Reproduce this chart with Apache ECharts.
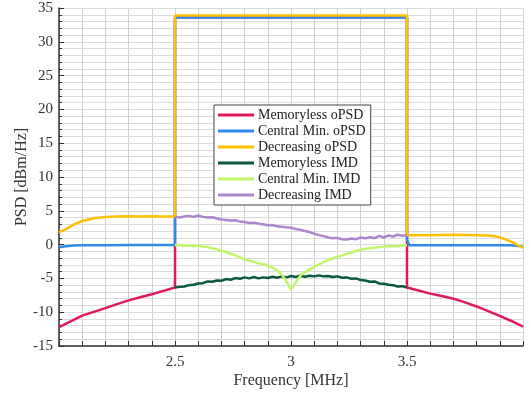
<!DOCTYPE html>
<html><head><meta charset="utf-8">
<script src="https://cdn.jsdelivr.net/npm/echarts@6/dist/echarts.min.js"></script>
<style>html,body{margin:0;padding:0;background:#fff}#c{width:531px;height:394px}</style>
</head><body><div id="c"></div>
<script>
// ---- data ----
var seriesNames = ['Memoryless oPSD','Central Min. oPSD','Decreasing oPSD','Memoryless IMD','Central Min. IMD','Decreasing IMD'];
var xTickLabels = ['2.5','3','3.5'];

var memOpsdFreq = [2.0,2.05,2.1,2.15,2.2,2.25,2.3,2.35,2.4,2.45,2.5,2.5,3.5,3.5,3.55,3.6,3.65,3.7,3.75,3.8,3.85,3.9,3.95,4.0];
var memOpsdVal  = [-12.2,-11.35,-10.5,-9.95,-9.4,-8.8,-8.25,-7.8,-7.35,-6.85,-6.35,33.65,33.65,-6.35,-6.8,-7.25,-7.6,-8.0,-8.55,-9.15,-9.85,-10.55,-11.3,-12.15];

var cenOpsdFreq = [2.0,2.03,2.06,2.1,2.2,2.3,2.4,2.5,2.5,3.5,3.5,3.51,3.6,3.7,3.8,3.9,3.95,4.0];
var cenOpsdVal  = [-0.4,-0.25,-0.15,-0.1,-0.1,-0.05,-0.05,-0.05,33.6,33.6,0.7,-0.1,-0.1,-0.1,-0.1,-0.1,-0.1,-0.3];

var decOpsdFreq = [2.0,2.03,2.06,2.1,2.15,2.2,2.25,2.3,2.35,2.4,2.45,2.5,2.5,3.5,3.5,3.6,3.7,3.8,3.85,3.88,3.92,3.96,4.0];
var decOpsdVal  = [1.8,2.3,2.9,3.5,3.9,4.1,4.15,4.2,4.15,4.2,4.15,4.15,33.9,33.9,1.4,1.4,1.45,1.4,1.35,1.25,0.85,0.25,-0.5];

var imdFreq = [2.50,2.52,2.54,2.56,2.58,2.60,2.62,2.64,2.66,2.68,2.70,2.72,2.74,2.76,2.78,2.80,2.82,2.84,2.86,2.88,2.90,2.92,2.94,2.96,2.98,3.00,3.02,3.04,3.06,3.08,3.10,3.12,3.14,3.16,3.18,3.20,3.22,3.24,3.26,3.28,3.30,3.32,3.34,3.36,3.38,3.40,3.42,3.44,3.46,3.48,3.50];
var memImdVal = [-6.35,-6.25,-6.2,-6.0,-5.95,-5.75,-5.7,-5.45,-5.5,-5.3,-5.35,-5.1,-5.2,-4.95,-5.05,-4.85,-5.0,-4.8,-5.0,-4.85,-4.95,-4.75,-4.9,-4.7,-4.85,-4.65,-4.8,-4.6,-4.75,-4.6,-4.7,-4.55,-4.7,-4.65,-4.8,-4.7,-4.9,-4.85,-5.05,-5.0,-5.25,-5.3,-5.5,-5.45,-5.75,-5.8,-5.95,-6.0,-6.2,-6.15,-6.35];
var cenImdVal = [-0.1,-0.05,-0.2,-0.1,-0.25,-0.15,-0.3,-0.35,-0.55,-0.7,-0.9,-1.1,-1.35,-1.6,-1.9,-2.2,-2.4,-2.55,-2.75,-2.9,-3.1,-3.4,-3.8,-4.4,-5.4,-6.7,-5.6,-4.6,-4.1,-3.7,-3.3,-2.95,-2.6,-2.3,-2.05,-1.8,-1.6,-1.4,-1.2,-0.95,-0.75,-0.65,-0.5,-0.45,-0.35,-0.3,-0.25,-0.2,-0.25,-0.1,-0.1];
var decImdVal = [4.1,4.0,4.15,4.25,4.1,4.3,4.1,4.0,4.05,3.85,3.7,3.65,3.55,3.6,3.4,3.35,3.2,3.25,3.1,3.0,2.85,2.9,2.7,2.65,2.55,2.5,2.3,2.2,2.0,1.85,1.6,1.4,1.25,1.05,0.95,1.0,0.8,0.75,0.9,0.8,1.05,0.95,1.1,0.95,1.3,1.05,1.35,1.2,1.45,1.3,1.4];

var colors = ['#DE1A5C','#2E8BEA','#FFC000','#0B5843','#C2F56A','#AC86CF'];

function pairs(xs, ys){ return xs.map(function(x,i){ return [x, ys[i]]; }); }

var seriesData = [
  pairs(memOpsdFreq, memOpsdVal),
  pairs(cenOpsdFreq, cenOpsdVal),
  pairs(decOpsdFreq, decOpsdVal),
  pairs(imdFreq, memImdVal),
  pairs(imdFreq, cenImdVal),
  pairs(imdFreq, decImdVal)
];

var font = 'Liberation Serif';
var chart = echarts.init(document.getElementById('c'));
chart.setOption({
  animation: false,
  backgroundColor: '#fff',
  textStyle: { fontFamily: font },
  grid: { left: 59, right: 8, top: 8, bottom: 48, containLabel: false, outerBoundsMode: 'none' },
  legend: {
    data: seriesNames,
    orient: 'vertical',
    left: 214, top: 105,
    icon: 'rect', itemWidth: 36, itemHeight: 3, itemGap: 0,
    padding: [2, 5, 2, 4],
    backgroundColor: '#fff', borderColor: '#444', borderWidth: 1,
    textStyle: { fontFamily: font, fontSize: 14, color: '#222', lineHeight: 16, padding: [0,0,0,-1] }
  },
  xAxis: {
    type: 'value', min: 2, max: 4, interval: 0.5,
    name: 'Frequency [MHz]', nameLocation: 'middle', nameGap: 27, nameMoveOverlap: false,
    nameTextStyle: { fontFamily: font, fontSize: 16, color: '#333' },
    axisLine: { show: true, onZero: false, lineStyle: { color: '#333', width: 1.5 } },
    axisTick: { show: true, inside: true, length: 5, lineStyle: { color: '#333' } },
    minorTick: { show: true, splitNumber: 5, length: 5, lineStyle: { color: '#333' } },
    axisLabel: { fontFamily: font, fontSize: 15, color: '#333', margin: 9,
      formatter: function(v){ var s = String(+v.toFixed(1)); return xTickLabels.indexOf(s) >= 0 ? s : ''; } },
    splitLine: { show: true, lineStyle: { color: '#d2d2d2', width: 1 } },
    minorSplitLine: { show: true, lineStyle: { color: '#d2d2d2', width: 1 } }
  },
  yAxis: {
    type: 'value', min: -15, max: 35, interval: 5,
    name: 'PSD [dBm/Hz]', nameLocation: 'middle', nameGap: 29, nameRotate: 90, nameMoveOverlap: false,
    nameTextStyle: { fontFamily: font, fontSize: 16, color: '#333' },
    axisLine: { show: true, onZero: false, lineStyle: { color: '#333', width: 1.5 } },
    axisTick: { show: true, inside: true, length: 5, lineStyle: { color: '#333' } },
    minorTick: { show: true, splitNumber: 5, length: 3, lineStyle: { color: '#333' } },
    axisLabel: { fontFamily: font, fontSize: 15, color: '#333', margin: 6 },
    splitLine: { show: true, lineStyle: { color: '#dcdcdc', width: 1 } },
    minorSplitLine: { show: true, lineStyle: { color: '#dcdcdc', width: 1 } }
  },
  series: seriesNames.map(function(n, i){
    return { name: n, type: 'line', data: seriesData[i], showSymbol: false, symbol: 'none',
      color: colors[i], lineStyle: { width: 2.5, color: colors[i] }, z: 2 + i };
  })
});
</script></body></html>
